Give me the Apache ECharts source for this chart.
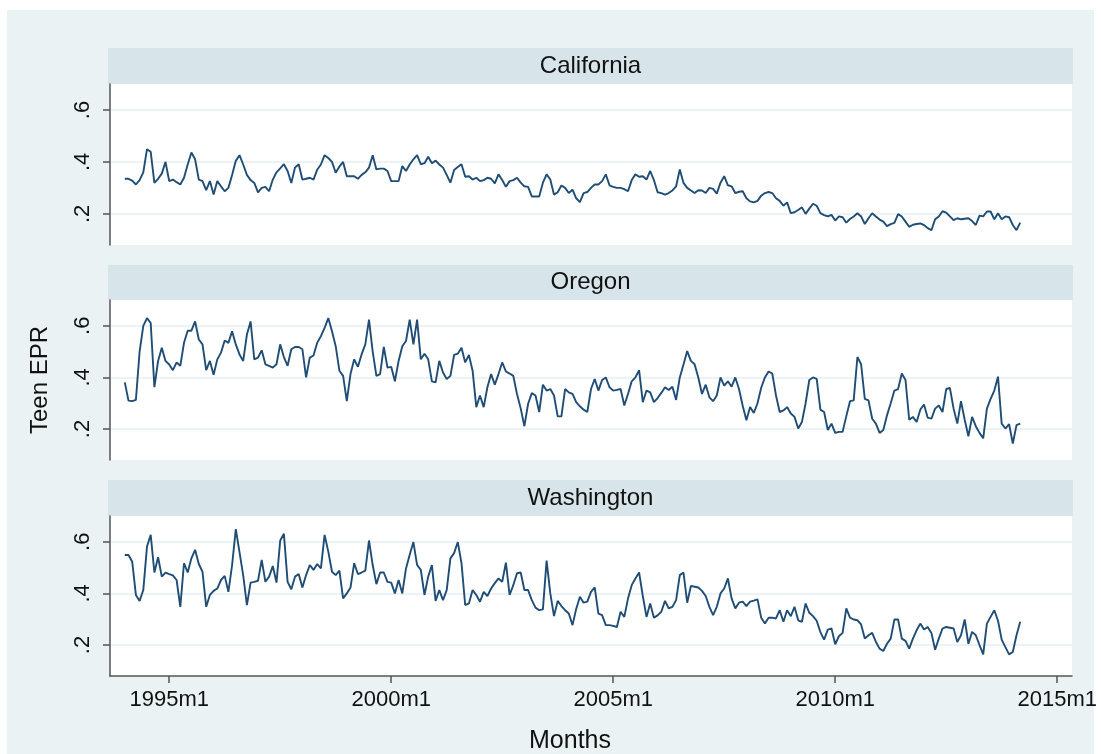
<!DOCTYPE html>
<html>
<head>
<meta charset="utf-8">
<script src="https://cdn.jsdelivr.net/npm/echarts@6/dist/echarts.min.js"></script>
<style>
  html, body { margin: 0; padding: 0; background: #ffffff; }
  #bg { position: absolute; left: 7px; top: 10px; width: 1087px; height: 744px; background: #EAF2F3; }
  #chart { position: absolute; left: 0; top: 0; width: 1101px; height: 754px; }
</style>
</head>
<body>
<div id="bg"></div>
<div id="chart"></div>
<script>
// Stata %tm month of the first observation (1994m1)
const startMonth = 408;
const panelNames = ['California', 'Oregon', 'Washington'];
const xTickMonths = [420, 480, 540, 600, 660];
const xTickLabels = ['1995m1', '2000m1', '2005m1', '2010m1', '2015m1'];
const yTickValues = [0.2, 0.4, 0.6];
const yTickLabels = ['.2', '.4', '.6'];

const california = [
  0.335,0.335,0.328,0.313,0.33,0.36,0.449,0.439,0.319,0.335,
  0.355,0.40,0.326,0.332,0.322,0.313,0.339,0.39,0.436,0.41,
  0.332,0.326,0.291,0.326,0.274,0.326,0.306,0.287,0.30,0.35,
  0.404,0.426,0.39,0.35,0.33,0.319,0.283,0.30,0.304,0.287,
  0.332,0.36,0.375,0.391,0.365,0.319,0.378,0.391,0.332,0.335,
  0.339,0.332,0.37,0.39,0.426,0.415,0.40,0.358,0.382,0.40,
  0.345,0.345,0.345,0.335,0.35,0.36,0.378,0.426,0.371,0.374,
  0.374,0.365,0.326,0.326,0.326,0.384,0.365,0.39,0.41,0.426,
  0.391,0.395,0.42,0.395,0.405,0.39,0.378,0.35,0.32,0.369,
  0.38,0.391,0.343,0.345,0.332,0.339,0.326,0.33,0.339,0.335,
  0.317,0.352,0.33,0.304,0.326,0.33,0.339,0.32,0.306,0.304,
  0.267,0.267,0.267,0.32,0.352,0.332,0.274,0.283,0.309,0.30,
  0.28,0.293,0.26,0.245,0.28,0.284,0.30,0.313,0.313,0.326,
  0.352,0.31,0.304,0.30,0.30,0.295,0.287,0.33,0.352,0.343,
  0.345,0.332,0.365,0.33,0.283,0.28,0.274,0.28,0.29,0.306,
  0.371,0.319,0.30,0.29,0.28,0.291,0.29,0.28,0.30,0.296,
  0.278,0.32,0.345,0.31,0.306,0.28,0.285,0.287,0.26,0.248,
  0.244,0.25,0.27,0.28,0.284,0.28,0.26,0.25,0.231,0.244,
  0.2025,0.206,0.215,0.225,0.20,0.22,0.239,0.231,0.2025,0.195,
  0.19,0.196,0.174,0.19,0.187,0.166,0.18,0.19,0.2025,0.19,
  0.161,0.183,0.2025,0.19,0.178,0.17,0.153,0.16,0.165,0.199,
  0.19,0.17,0.15,0.158,0.161,0.163,0.157,0.145,0.137,0.179,
  0.19,0.21,0.205,0.19,0.176,0.183,0.179,0.181,0.183,0.172,
  0.157,0.193,0.19,0.209,0.209,0.179,0.2025,0.179,0.19,0.187,
  0.157,0.137,0.166
];

const oregon = [
  0.381,0.31,0.308,0.313,0.50,0.60,0.63,0.611,0.362,0.464,
  0.515,0.464,0.45,0.428,0.458,0.445,0.534,0.581,0.581,0.617,
  0.547,0.528,0.428,0.464,0.41,0.470,0.496,0.543,0.534,0.579,
  0.528,0.489,0.464,0.566,0.617,0.470,0.477,0.505,0.451,0.445,
  0.438,0.451,0.528,0.479,0.445,0.509,0.518,0.518,0.509,0.40,
  0.477,0.485,0.534,0.56,0.592,0.630,0.579,0.521,0.426,0.406,
  0.308,0.413,0.470,0.441,0.489,0.528,0.624,0.50,0.406,0.413,
  0.518,0.438,0.441,0.385,0.464,0.521,0.541,0.624,0.528,0.624,
  0.470,0.492,0.470,0.385,0.381,0.464,0.419,0.394,0.406,0.487,
  0.492,0.515,0.458,0.487,0.426,0.285,0.330,0.285,0.362,0.413,
  0.372,0.413,0.458,0.423,0.415,0.406,0.336,0.28,0.211,0.298,
  0.339,0.330,0.266,0.372,0.349,0.355,0.330,0.249,0.249,0.355,
  0.342,0.336,0.304,0.288,0.275,0.266,0.355,0.394,0.349,0.390,
  0.40,0.362,0.349,0.352,0.355,0.291,0.336,0.385,0.40,0.428,
  0.304,0.349,0.342,0.304,0.320,0.340,0.362,0.351,0.364,0.313,
  0.40,0.45,0.502,0.464,0.451,0.40,0.336,0.372,0.323,0.308,
  0.330,0.40,0.368,0.385,0.364,0.40,0.355,0.29,0.234,0.285,
  0.262,0.30,0.36,0.40,0.423,0.415,0.33,0.266,0.272,0.285,
  0.26,0.247,0.202,0.227,0.30,0.390,0.40,0.394,0.275,0.266,
  0.196,0.221,0.185,0.189,0.189,0.25,0.308,0.311,0.479,0.451,
  0.317,0.311,0.240,0.221,0.185,0.196,0.253,0.30,0.349,0.355,
  0.415,0.390,0.236,0.247,0.227,0.275,0.295,0.244,0.240,0.279,
  0.291,0.266,0.355,0.359,0.279,0.221,0.308,0.236,0.172,0.247,
  0.211,0.185,0.164,0.279,0.317,0.349,0.403,0.221,0.202,0.219,
  0.144,0.215,0.221
];

const washington = [
  0.549,0.549,0.523,0.394,0.371,0.413,0.582,0.627,0.481,0.540,
  0.465,0.481,0.475,0.47,0.452,0.348,0.517,0.481,0.536,0.569,
  0.514,0.484,0.348,0.394,0.41,0.419,0.452,0.468,0.406,0.510,
  0.649,0.56,0.47,0.355,0.442,0.445,0.449,0.530,0.445,0.465,
  0.506,0.442,0.605,0.631,0.445,0.416,0.465,0.475,0.423,0.471,
  0.51,0.491,0.514,0.497,0.627,0.562,0.484,0.471,0.488,0.381,
  0.40,0.423,0.517,0.475,0.481,0.488,0.605,0.51,0.436,0.481,
  0.481,0.445,0.442,0.40,0.452,0.40,0.497,0.55,0.599,0.51,
  0.491,0.394,0.465,0.51,0.371,0.413,0.374,0.413,0.536,0.556,
  0.599,0.517,0.355,0.361,0.413,0.394,0.368,0.406,0.390,0.419,
  0.44,0.458,0.445,0.519,0.394,0.432,0.478,0.481,0.413,0.413,
  0.374,0.345,0.335,0.338,0.527,0.40,0.312,0.371,0.351,0.335,
  0.322,0.277,0.34,0.387,0.364,0.368,0.406,0.423,0.322,0.316,
  0.277,0.277,0.274,0.270,0.329,0.309,0.38,0.432,0.458,0.481,
  0.39,0.309,0.361,0.306,0.315,0.329,0.371,0.342,0.348,0.374,
  0.471,0.481,0.364,0.429,0.426,0.423,0.41,0.390,0.348,0.316,
  0.348,0.40,0.419,0.458,0.381,0.342,0.364,0.368,0.351,0.368,
  0.372,0.377,0.306,0.283,0.306,0.306,0.303,0.335,0.290,0.335,
  0.312,0.348,0.296,0.290,0.361,0.325,0.312,0.294,0.25,0.221,
  0.260,0.264,0.203,0.234,0.247,0.342,0.306,0.299,0.296,0.28,
  0.225,0.238,0.247,0.212,0.186,0.177,0.205,0.225,0.299,0.299,
  0.225,0.216,0.186,0.225,0.257,0.283,0.260,0.270,0.247,0.182,
  0.225,0.264,0.270,0.267,0.264,0.212,0.238,0.299,0.205,0.251,
  0.238,0.20,0.164,0.283,0.309,0.335,0.294,0.221,0.192,0.164,
  0.173,0.238,0.290
];

const seriesValues = [california, oregon, washington];

const FONT = "'Liberation Sans', Arial, Helvetica, sans-serif";
const LINE_COLOR = '#1F4D76';
const AXIS_COLOR = '#555555';
const GRID_LINE = '#E6EFF1';
const STRIP = '#D7E4EA';

const plotLeft = 110, plotWidth = 962;
const panels = [
  { top: 84, height: 161, stripTop: 48 },
  { top: 300, height: 160, stripTop: 265 },
  { top: 516, height: 160, stripTop: 480 }
];

const grids = panels.map(p => ({
  left: plotLeft, top: p.top, width: plotWidth, height: p.height,
  show: true, backgroundColor: '#ffffff', borderWidth: 0, containLabel: false
}));

const xAxes = panels.map((p, k) => {
  const bottom = k === panels.length - 1;
  return {
    type: 'value', gridIndex: k, min: 404, max: 664,
    show: bottom,
    axisLine: { show: bottom, onZero: false, lineStyle: { color: AXIS_COLOR, width: 1.5 } },
    axisTick: { show: bottom, length: 7, inside: false, customValues: xTickMonths,
                lineStyle: { color: AXIS_COLOR, width: 1.5 } },
    axisLabel: { show: bottom, customValues: xTickMonths, margin: 13,
                 color: '#111', fontFamily: FONT, fontSize: 22,
                 formatter: v => xTickLabels[xTickMonths.indexOf(v)] || '' },
    splitLine: { show: false }
  };
});

const yAxes = panels.map((p, k) => ({
  type: 'value', gridIndex: k, min: 0.08, max: 0.70,
  axisLine: { show: true, lineStyle: { color: AXIS_COLOR, width: 1.5 } },
  axisTick: { show: true, length: 7, customValues: yTickValues,
              lineStyle: { color: AXIS_COLOR, width: 1.5 } },
  axisLabel: { show: true, customValues: yTickValues, rotate: 90, margin: 16,
               color: '#111', fontFamily: FONT, fontSize: 22,
               formatter: v => yTickLabels[yTickValues.findIndex(t => Math.abs(t - v) < 1e-6)] || '' },
  splitLine: { show: true, lineStyle: { color: GRID_LINE, width: 1.5 } }
}));

const series = seriesValues.map((vals, k) => ({
  type: 'line', name: panelNames[k], xAxisIndex: k, yAxisIndex: k,
  data: vals.map((v, i) => [startMonth + i, v]),
  showSymbol: false, symbol: 'none', smooth: false,
  lineStyle: { color: LINE_COLOR, width: 1.9 },
  itemStyle: { color: LINE_COLOR },
  animation: false
}));

const graphics = [];
panels.forEach((p, k) => {
  graphics.push({
    type: 'rect', silent: true, z: 0,
    shape: { x: 108, y: p.stripTop, width: 965, height: p.top - p.stripTop },
    style: { fill: STRIP }
  });
  graphics.push({
    type: 'text', silent: true, z: 1,
    x: 590.5, y: p.stripTop + (p.top - p.stripTop) / 2,
    style: { text: panelNames[k], fill: '#111', font: '24px ' + FONT,
             textAlign: 'center', textVerticalAlign: 'middle' }
  });
});
graphics.push({
  type: 'text', silent: true, x: 40, y: 380, rotation: Math.PI / 2,
  style: { text: 'Teen EPR', fill: '#111', font: '24px ' + FONT,
           textAlign: 'center', textVerticalAlign: 'middle' }
});
graphics.push({
  type: 'text', silent: true, x: 570, y: 741,
  style: { text: 'Months', fill: '#111', font: '25px ' + FONT,
           textAlign: 'center', textVerticalAlign: 'middle' }
});

const chart = echarts.init(document.getElementById('chart'), null, { renderer: 'canvas' });
chart.setOption({
  animation: false,
  backgroundColor: 'transparent',
  grid: grids,
  xAxis: xAxes,
  yAxis: yAxes,
  series: series,
  graphic: graphics
});
</script>
</body>
</html>
